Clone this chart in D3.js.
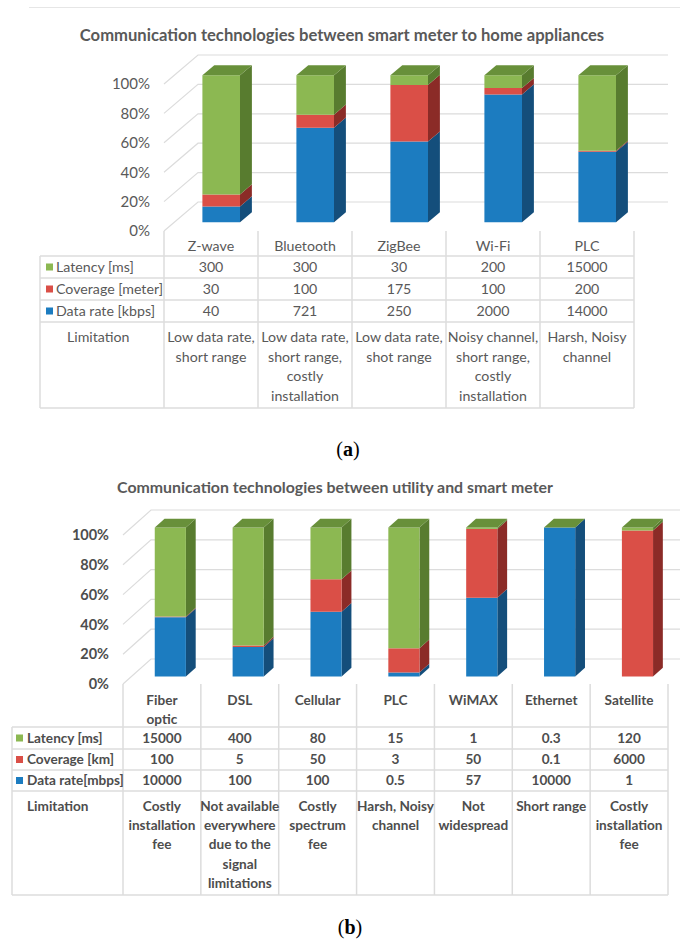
<!DOCTYPE html>
<html>
<head>
<meta charset="utf-8">
<script src="https://cdn.jsdelivr.net/npm/d3@7"></script>
<style>
  body { margin: 0; background: #fff; }
  svg { display: block; }
</style>
</head>
<body>
<script>
// ---- Panel (a): smart meter to home appliances ----
const categoriesA = ["Z-wave", "Bluetooth", "ZigBee", "Wi-Fi", "PLC"];
const headerLinesA = [["Z-wave"], ["Bluetooth"], ["ZigBee"], ["Wi-Fi"], ["PLC"]];
const latencyA = [300, 300, 30, 200, 15000];
const coverageA = [30, 100, 175, 100, 200];
const dataRateA = [40, 721, 250, 2000, 14000];
const seriesNamesA = ["Latency [ms]", "Coverage [meter]", "Data rate [kbps]"];
const limitationsA = [
  ["Low data rate,", "short range"],
  ["Low data rate,", "short range,", "costly", "installation"],
  ["Low data rate,", "shot range"],
  ["Noisy channel,", "short range,", "costly", "installation"],
  ["Harsh, Noisy", "channel"]
];

// ---- Panel (b): utility and smart meter ----
const categoriesB = ["Fiber optic", "DSL", "Cellular", "PLC", "WiMAX", "Ethernet", "Satellite"];
const headerLinesB = [["Fiber", "optic"], ["DSL"], ["Cellular"], ["PLC"], ["WiMAX"], ["Ethernet"], ["Satellite"]];
const latencyB = [15000, 400, 80, 15, 1, 0.3, 120];
const coverageB = [100, 5, 50, 3, 50, 0.1, 6000];
const dataRateB = [10000, 100, 100, 0.5, 57, 10000, 1];
const seriesNamesB = ["Latency [ms]", "Coverage [km]", "Data rate[mbps]"];
const limitationsB = [
  ["Costly", "installation", "fee"],
  ["Not available", "everywhere", "due to the", "signal", "limitations"],
  ["Costly", "spectrum", "fee"],
  ["Harsh, Noisy", "channel"],
  ["Not", "widespread"],
  ["Short range"],
  ["Costly", "installation", "fee"]
];

const titleA = "Communication technologies between smart meter to home appliances";
const titleB = "Communication technologies between utility and smart meter";
const limitationLabel = "Limitation";

// face shades for each series: front, side, top
const shades = {
  latency:  { front: "#8cb852", side: "#587c2f", top: "#68903a" },
  coverage: { front: "#da4f47", side: "#8b2b27", top: "#a9352e" },
  dataRate: { front: "#1c7cc0", side: "#144e7b", top: "#1a629c" }
};

const FONT = "Lato, 'Open Sans', sans-serif";

const svg = d3.select("body").append("svg")
  .attr("width", 680).attr("height", 943)
  .style("font-family", FONT);

function fitWidth(sel, target) {
  const w = sel.node().getComputedTextLength();
  const fs = parseFloat(sel.attr("font-size"));
  sel.attr("font-size", (fs * target / w).toFixed(2));
}

function drawPanel(p) {
  const g = svg.append("g");
  const stackKeys = ["dataRate", "coverage", "latency"];     // bottom to top
  const tableKeys = ["latency", "coverage", "dataRate"];     // table row order
  const rows = p.categories.map((c, i) => ({
    cat: c, dataRate: p.dataRate[i], coverage: p.coverage[i], latency: p.latency[i]
  }));
  const stacked = d3.stack().keys(stackKeys).offset(d3.stackOffsetExpand)(rows);

  const x = d3.scaleBand().domain(p.categories).range([p.x0, p.x1])
    .paddingInner(0.6).paddingOuter(0.3);
  const col = d3.scaleBand().domain(p.categories).range([p.x0, p.x1]);
  const y = d3.scaleLinear().domain([0, 1]).range([p.yBase, p.yTop]);
  const [dx, dy] = p.depth;
  const pt = (xx, v, f) => [xx + f * dx, y(v) + f * dy];
  const poly = pts => pts.map(q => q.join(",")).join(" ");

  // title
  const t = g.append("text")
    .attr("x", p.titleX).attr("y", p.titleY)
    .attr("text-anchor", "middle")
    .attr("font-size", 17).attr("font-weight", "bold")
    .attr("fill", p.titleColor)
    .text(p.title);
  fitWidth(t, p.titleWidth);

  // side wall + back wall gridlines
  const ticks = y.ticks(5);
  g.append("g").selectAll("polyline").data(ticks).join("polyline")
    .attr("points", v => poly([pt(p.x0, v, 0), pt(p.x0, v, 1), pt(p.x1, v, 1)]))
    .attr("fill", "none").attr("stroke", "#dcdcdc").attr("stroke-width", 1.2);

  // value axis labels
  g.append("g").selectAll("text").data(ticks).join("text")
    .attr("x", p.labelX).attr("y", v => y(v)).attr("dy", "0.36em")
    .attr("text-anchor", "end")
    .attr("font-size", p.axisFont).attr("font-weight", p.weight)
    .attr("fill", p.textColor)
    .text(d3.format(".0%"));

  // 3D stacked bars
  const f0 = 0.3, f1 = 0.65;
  const bars = g.append("g");
  p.categories.forEach((c, i) => {
    const bx = x(c), w = x.bandwidth();
    const bg = bars.append("g");
    stacked.forEach(s => {
      const [v0, v1] = s[i];
      const sh = shades[s.key];
      if (v1 - v0 > 0) {
        bg.append("polygon")
          .attr("points", poly([pt(bx + w, v0, f0), pt(bx + w, v0, f1), pt(bx + w, v1, f1), pt(bx + w, v1, f0)]))
          .attr("fill", sh.side);
        bg.append("polygon")
          .attr("points", poly([pt(bx, v0, f0), pt(bx + w, v0, f0), pt(bx + w, v1, f0), pt(bx, v1, f0)]))
          .attr("fill", sh.front);
      }
    });
    const topSeries = stacked[stacked.length - 1];
    bg.append("polygon")
      .attr("points", poly([pt(bx, 1, f0), pt(bx + w, 1, f0), pt(bx + w, 1, f1), pt(bx, 1, f1)]))
      .attr("fill", shades[topSeries.key].top);
  });

  // data table
  const tg = g.append("g");
  const line = (x1, y1, x2, y2) => tg.append("line")
    .attr("x1", x1).attr("y1", y1).attr("x2", x2).attr("y2", y2)
    .attr("stroke", "#dcdcdc").attr("stroke-width", 1.5);
  const rl = p.rowLines;
  rl.forEach(ry => line(p.tableLeft, ry, p.x1, ry));
  line(p.tableLeft, rl[0], p.tableLeft, rl[rl.length - 1]);
  p.categories.forEach(c => line(col(c), p.yBase, col(c), rl[rl.length - 1]));
  line(p.x1, p.yBase, p.x1, rl[rl.length - 1]);

  const txt = (xx, yy, s, anchor) => tg.append("text")
    .attr("x", xx).attr("y", yy).attr("dy", "0.36em")
    .attr("text-anchor", anchor || "middle")
    .attr("font-size", p.tableFont).attr("font-weight", p.weight)
    .attr("fill", p.textColor)
    .text(s);

  // category header
  p.categories.forEach((c, i) => {
    p.headerLines[i].forEach((s, k) => txt(col(c) + col.bandwidth() / 2, p.headerY + k * p.headerLineH, s));
  });

  // series rows with legend keys
  const valuesByKey = { latency: p.latency, coverage: p.coverage, dataRate: p.dataRate };
  tableKeys.forEach((key, r) => {
    const cy = (rl[r] + rl[r + 1]) / 2;
    tg.append("rect")
      .attr("x", p.keyX).attr("y", cy - 3.5).attr("width", 7).attr("height", 7)
      .attr("fill", shades[key].front);
    txt(p.nameX, cy, p.seriesNames[r], "start");
    p.categories.forEach((c, i) => txt(col(c) + col.bandwidth() / 2, cy, valuesByKey[key][i]));
  });

  // limitation row
  txt(p.limitLabelX, p.limitY, limitationLabel, "start");
  p.categories.forEach((c, i) => {
    p.limitations[i].forEach((s, k) => txt(col(c) + col.bandwidth() / 2, p.limitY + k * p.limitLineH, s));
  });
}

// chart frame line above panel (a)
svg.append("line").attr("x1", 29).attr("x2", 680).attr("y1", 7.5).attr("y2", 7.5)
  .attr("stroke", "#e6e6e6").attr("stroke-width", 1.2);

drawPanel({
  title: titleA, titleX: 342, titleY: 41, titleWidth: 525, titleColor: "#595959",
  categories: categoriesA, headerLines: headerLinesA,
  latency: latencyA, coverage: coverageA, dataRate: dataRateA,
  seriesNames: seriesNamesA, limitations: limitationsA,
  x0: 164, x1: 634, yBase: 231, yTop: 84, depth: [34, -29],
  labelX: 150, axisFont: 15, tableFont: 14.2, weight: "normal", textColor: "#595959",
  tableLeft: 40, rowLines: [256, 278, 300, 322, 408],
  headerY: 246, headerLineH: 19,
  keyX: 46, nameX: 56, limitLabelX: 67, limitY: 337, limitLineH: 19.5
});

drawPanel({
  title: titleB, titleX: 335, titleY: 493, titleWidth: 436, titleColor: "#595959",
  categories: categoriesB, headerLines: headerLinesB,
  latency: latencyB, coverage: coverageB, dataRate: dataRateB,
  seriesNames: seriesNamesB, limitations: limitationsB,
  x0: 123, x1: 668, yBase: 684, yTop: 535, depth: [28, -25],
  labelX: 109, axisFont: 14.5, tableFont: 13.6, weight: "bold", textColor: "#4d4d4d",
  tableLeft: 12, rowLines: [727, 749, 770, 791, 895],
  headerY: 700, headerLineH: 19,
  keyX: 16, nameX: 27, limitLabelX: 27, limitY: 806, limitLineH: 19.3
});

// panel captions
function caption(cx, cy, letter) {
  const c = svg.append("text")
    .attr("x", cx).attr("y", cy).attr("text-anchor", "middle")
    .attr("font-family", "'Liberation Serif', 'DejaVu Serif', serif")
    .attr("font-size", 20).attr("fill", "#000");
  c.append("tspan").text("(");
  c.append("tspan").attr("font-weight", "bold").text(letter);
  c.append("tspan").text(")");
}
caption(348, 456, "a");
caption(350, 934, "b");
</script>
</body>
</html>
